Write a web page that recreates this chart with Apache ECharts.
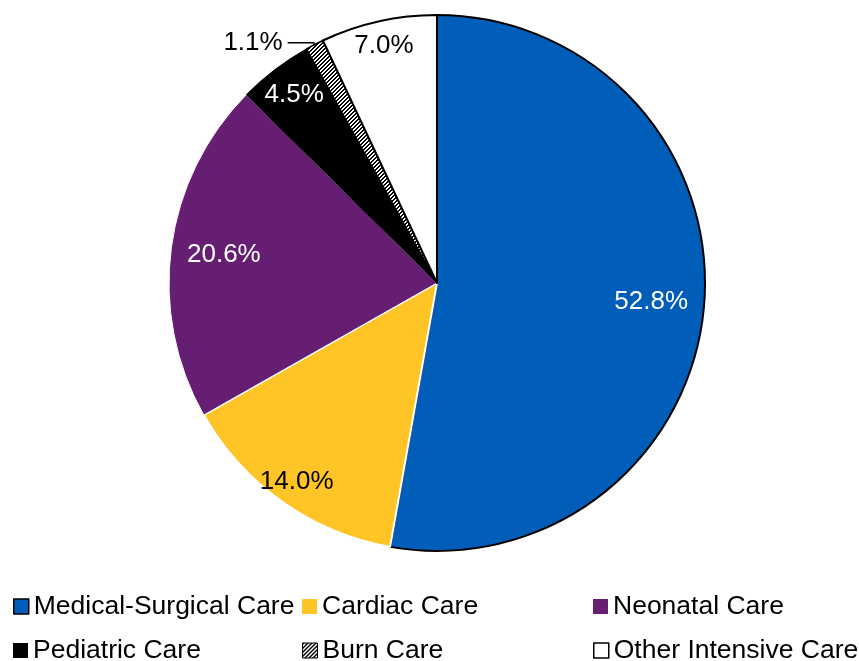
<!DOCTYPE html>
<html>
<head>
<meta charset="utf-8">
<script src="https://cdn.jsdelivr.net/npm/echarts@6/dist/echarts.min.js"></script>
<style>
  html, body { margin: 0; padding: 0; background: #ffffff; }
  #chart { width: 859px; height: 661px; }
</style>
</head>
<body>
<div id="chart"></div>
<script>
// Share of intensive care beds by unit type (percent)
const categories = [
  'Medical-Surgical Care',
  'Cardiac Care',
  'Neonatal Care',
  'Pediatric Care',
  'Burn Care',
  'Other Intensive Care'
];
const shares = [52.8, 14.0, 20.6, 4.5, 1.1, 7.0];

const FONT = "'Liberation Sans', Arial, sans-serif";

// Diagonal hatch used for the burn care slice
function makeHatch() {
  const c = document.createElement('canvas');
  c.width = 4; c.height = 4;
  const ctx = c.getContext('2d');
  ctx.fillStyle = '#ffffff';
  ctx.fillRect(0, 0, 4, 4);
  ctx.fillStyle = '#000000';
  for (let y = 0; y < 4; y++) {
    for (let x = 0; x < 4; x++) {
      if ((x + y) % 4 < 2) ctx.fillRect(x, y, 1, 1);
    }
  }
  return { image: c, repeat: 'repeat' };
}
const hatch = makeHatch();

const sliceStyles = [
  { color: '#005EB8', borderColor: '#000000', borderWidth: 2 },
  { color: '#FFC526', borderColor: '#ffffff', borderWidth: 2 },
  { color: '#651E72', borderColor: '#ffffff', borderWidth: 1 },
  { color: '#000000', borderColor: '#000000', borderWidth: 1 },
  { color: hatch, borderColor: '#000000', borderWidth: 1.5 },
  { color: '#ffffff', borderColor: '#000000', borderWidth: 2 }
];
const labelColors = ['#ffffff', '#000000', '#ffffff', '#ffffff', '#000000', '#000000'];
// which label ring each value label sits on (-1: outside with a leader line)
const labelRing = [0, 1, 0, 2, -1, 1];
// inner radius of each label ring; labels sit halfway between it and the rim
const ringInner = [156, 212, 198];

const CENTER = [437, 283];
const R = 268;

const fmt = v => v.toFixed(1) + '%';

const mainData = categories.map((name, i) => ({
  name: name,
  value: shares[i],
  itemStyle: sliceStyles[i],
  label: labelRing[i] === -1
    ? { show: true, position: 'outside', color: labelColors[i] }
    : { show: false },
  labelLine: { show: labelRing[i] === -1 }
}));

function ringData(ring) {
  return categories.map((name, i) => ({
    name: name,
    value: shares[i],
    label: { show: labelRing[i] === ring, color: labelColors[i] }
  }));
}

function labelPie(ring) {
  return {
    type: 'pie',
    center: CENTER,
    radius: [ringInner[ring], R],
    startAngle: 90,
    silent: true,
    z: 5,
    itemStyle: { color: 'rgba(0,0,0,0)', borderWidth: 0 },
    label: {
      position: 'inside',
      fontFamily: FONT,
      fontSize: 26,
      formatter: p => fmt(p.value)
    },
    labelLine: { show: false },
    emphasis: { disabled: true },
    data: ringData(ring)
  };
}

// One legend block per category, laid out in a 3 x 2 grid
const legendCols = [13, 302, 593];
const legendRows = [593, 637];
const legendBorder = [
  { borderColor: '#000000', borderWidth: 1.5 },
  { borderWidth: 0 },
  { borderWidth: 0 },
  { borderWidth: 0 },
  { borderColor: '#000000', borderWidth: 1 },
  { borderColor: '#000000', borderWidth: 1.5 }
];
const legends = categories.map((name, i) => ({
  data: [name],
  left: legendCols[i % 3],
  top: legendRows[Math.floor(i / 3)],
  padding: 0,
  icon: 'rect',
  itemWidth: 15,
  itemHeight: 15,
  selectedMode: false,
  itemStyle: legendBorder[i],
  textStyle: { fontFamily: FONT, fontSize: 26.5, color: '#000000' }
}));

const chart = echarts.init(document.getElementById('chart'), null, { renderer: 'canvas' });
chart.setOption({
  animation: false,
  backgroundColor: '#ffffff',
  legend: legends,
  series: [
    {
      type: 'pie',
      center: CENTER,
      radius: [0, R],
      startAngle: 90,
      clockwise: true,
      avoidLabelOverlap: false,
      label: {
        fontFamily: FONT,
        fontSize: 26,
        formatter: p => fmt(p.value),
        distanceToLabelLine: 5
      },
      labelLine: {
        length: 2,
        length2: 26,
        smooth: false,
        lineStyle: { color: '#000000', width: 1.5 }
      },
      emphasis: { disabled: true },
      data: mainData
    },
    labelPie(0),
    labelPie(1),
    labelPie(2)
  ]
});
</script>
</body>
</html>
